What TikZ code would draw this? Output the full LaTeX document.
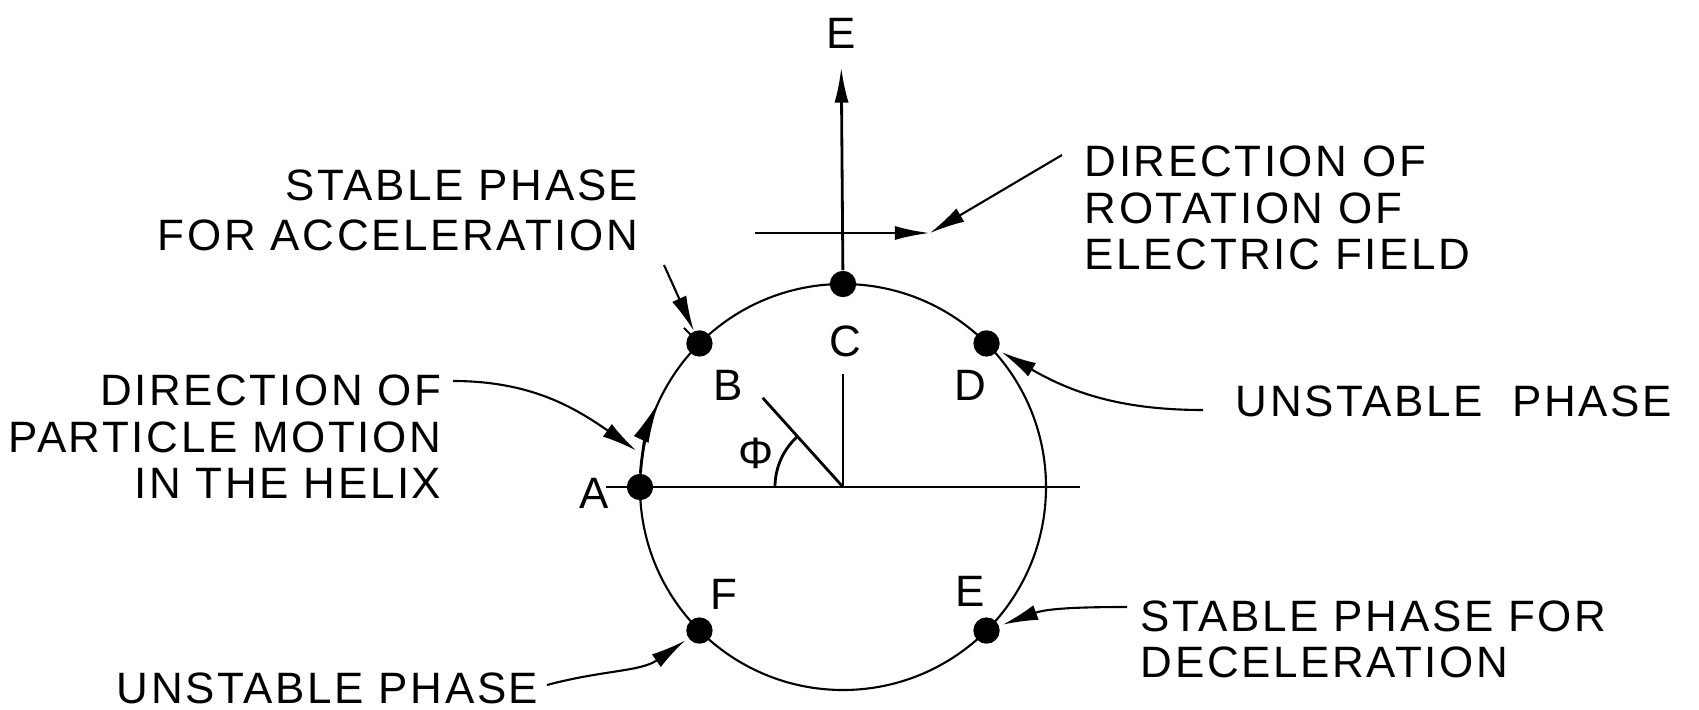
\documentclass[tikz,border=0pt]{standalone}
\usepackage{fontspec}
\usetikzlibrary{arrows.meta,positioning,calc}
\newfontfamily\capsfont[LetterSpace=6]{Liberation Sans}
\newcommand{\lblfont}{\capsfont\fontsize{12.5}{13.2}\selectfont}

\begin{document}
\begin{tikzpicture}[
  dot/.style={circle, fill=black, inner sep=0pt, minimum size=7.5pt},
  lbl/.style={font=\lblfont, inner sep=1pt},
  note/.style={font=\lblfont, inner sep=0pt},
  arr/.style={-{Latex[length=10pt, width=4pt]}, line width=0.8pt},
  leader/.style={-{Latex[length=10pt, width=4.4pt]}, line width=0.6pt},
  axis/.style={line width=0.8pt},
  ring/.style={line width=0.6pt}
]
\useasboundingbox (0,0) rectangle (16.99,7.09);

%% ── Circle and axes ────────────────────────────────────────────
\coordinate (O) at (8.43,2.22);
\draw[ring] (O) circle (2.03);
\draw[axis] ([shift={(180:2.37)}]O) -- ([shift={(0:2.37)}]O);
\draw[axis] ([shift={(0:2.03)}]O) ++(0,-0.06) -- ++(0,0.18);
\draw[axis] (O) -- ([shift={(90:1.13)}]O);
\draw[axis] (O) -- ([shift={(132:1.2)}]O);
\draw[axis] ([shift={(180:0.68)}]O) arc[start angle=180, end angle=132, radius=0.68];
\draw[ring] ([shift={(135:2.03)}]O) -- ([shift={(135:2.25)}]O);

%% ── Phase points ───────────────────────────────────────────────
\node[dot] (A) at ([shift={(180:2.03)}]O) {};
\node[dot] (B) at ([shift={(135:2.03)}]O) {};
\node[dot] (C) at ([shift={(90:2.03)}]O) {};
\node[dot] (D) at ([shift={(45:2.03)}]O) {};
\node[dot] (E) at ([shift={(-45:2.03)}]O) {};
\node[dot] (F) at ([shift={(-135:2.03)}]O) {};

\node[lbl] (Albl) at (5.94,2.16) {A};
\node[lbl] (Blbl) at (7.28,3.24) {B};
\node[lbl] (Clbl) at (8.45,3.68) {C};
\node[lbl] (Dlbl) at (9.70,3.24) {D};
\node[lbl] (Elbl) at (9.70,1.18) {E};
\node[lbl] (Flbl) at (7.24,1.15) {F};
\node[lbl] (phi) at (7.56,2.56) {Φ};

%% ── Field vector and its rotation ──────────────────────────────
\node[lbl] (Etop) at (8.41,6.76) {E};
\draw[arr, shorten >=4.3pt] (C) -- (Etop);
\coordinate (rotL) at (7.55,4.76);
\coordinate (rotR) at (9.30,4.76);
\draw[arr] (rotL) -- (rotR);

%% ── Notes ──────────────────────────────────────────────────────
\node[note, anchor=west, align=left] (rot) at (10.84,5.01)
  {DIRECTION OF\\ROTATION OF\\ELECTRIC FIELD};
\node[note, anchor=east, align=right] (acc) at (6.39,4.99)
  {STABLE PHASE\\[1pt]FOR ACCELERATION};
\node[note, anchor=east, align=right] (part) at (4.42,2.72)
  {DIRECTION OF\\PARTICLE MOTION\\IN THE HELIX};
\node[note, anchor=west] (unsR) at (12.35,3.08) {UNSTABLE\ \ PHASE};
\node[note, anchor=west, align=left] (dec) at (11.40,0.695)
  {STABLE PHASE FOR\\DECELERATION};
\node[note, anchor=east] (unsL) at (5.39,0.21) {UNSTABLE PHASE};

%% ── Leaders ────────────────────────────────────────────────────
\coordinate (rotT) at (10.62,5.54);
\coordinate (accT) at (6.64,4.44);
\coordinate (partT) at (4.53,3.28);
\coordinate (partH) at ([shift={(170:2.1)}]O);
\coordinate (unsRT) at (12.03,2.99);
\coordinate (decT) at (11.27,1.02);
\coordinate (unsLT) at (5.47,0.24);

\draw[leader] (rotT) -- (rotR);
\draw[leader] (accT) -- (B);
\draw[leader] (partT) to[out=0, in=145] (partH);
\draw[-{Latex[length=12pt, width=4.6pt]}, line width=0.8pt]
  ([shift={(176:2.03)}]O) arc[start angle=176, end angle=155, radius=2.03];
\draw[leader, shorten >=1pt] (unsRT) to[out=180, in=-30] (D);
\draw[leader, shorten >=1pt] (decT) to[out=180, in=20] (E);
\draw[leader, shorten >=1pt] (unsLT) to[out=15, in=-145] (F);

\end{tikzpicture}
\end{document}
